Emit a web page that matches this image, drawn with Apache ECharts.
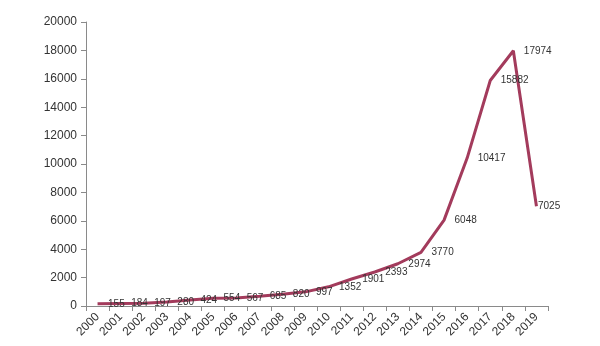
<!DOCTYPE html>
<html>
<head>
<meta charset="utf-8">
<script src="https://cdn.jsdelivr.net/npm/echarts@6/dist/echarts.min.js"></script>
<style>
  html, body { margin: 0; padding: 0; background: #fff; }
  #chart { width: 600px; height: 346px; }
</style>
</head>
<body>
<div id="chart"></div>
<script>
// Yearly totals, 2000–2019
const years = ['2000','2001','2002','2003','2004','2005','2006','2007','2008','2009',
               '2010','2011','2012','2013','2014','2015','2016','2017','2018','2019'];
const counts = [155, 184, 197, 280, 424, 554, 567, 685, 820, 997,
                1352, 1901, 2393, 2974, 3770, 6048, 10417, 15882, 17974, 7025];
const yTicks = [0, 2000, 4000, 6000, 8000, 10000, 12000, 14000, 16000, 18000, 20000];

// The last value's label sits tight against the line end
const seriesData = counts.map((v, i) =>
  i === counts.length - 1 ? { value: v, label: { distance: 1 } } : v);

const chart = echarts.init(document.getElementById('chart'));
chart.setOption({
  animation: false,
  grid: { left: 86, right: 52, top: 22, bottom: 40 },
  xAxis: {
    type: 'category',
    data: years,
    boundaryGap: true,
    axisLine: { lineStyle: { color: '#8a8a8a', width: 1 } },
    axisTick: { show: true, length: 5, lineStyle: { color: '#8a8a8a' } },
    axisLabel: {
      rotate: 45, interval: 0, margin: 9,
      fontFamily: 'Liberation Sans, Arial, sans-serif', fontSize: 12, color: '#333'
    }
  },
  yAxis: {
    type: 'value',
    min: yTicks[0],
    max: yTicks[yTicks.length - 1],
    interval: yTicks[1] - yTicks[0],
    axisLine: { show: true, lineStyle: { color: '#8a8a8a', width: 1 } },
    axisTick: { show: true, length: 5, lineStyle: { color: '#8a8a8a' } },
    splitLine: { show: false },
    axisLabel: {
      margin: 9,
      formatter: (v) => String(v),
      fontFamily: 'Liberation Sans, Arial, sans-serif', fontSize: 12, color: '#333'
    }
  },
  series: [{
    type: 'line',
    data: seriesData,
    showSymbol: true,
    symbol: 'circle',
    symbolSize: 1,
    itemStyle: { color: 'rgba(160,60,90,0)', borderWidth: 0 },
    lineStyle: { color: '#a33b5c', width: 3 },
    label: {
      show: true,
      position: 'right',
      distance: 10,
      fontFamily: 'Liberation Sans, Arial, sans-serif',
      fontSize: 10,
      color: '#333'
    },
    labelLayout: { hideOverlap: false }
  }]
});
</script>
</body>
</html>
